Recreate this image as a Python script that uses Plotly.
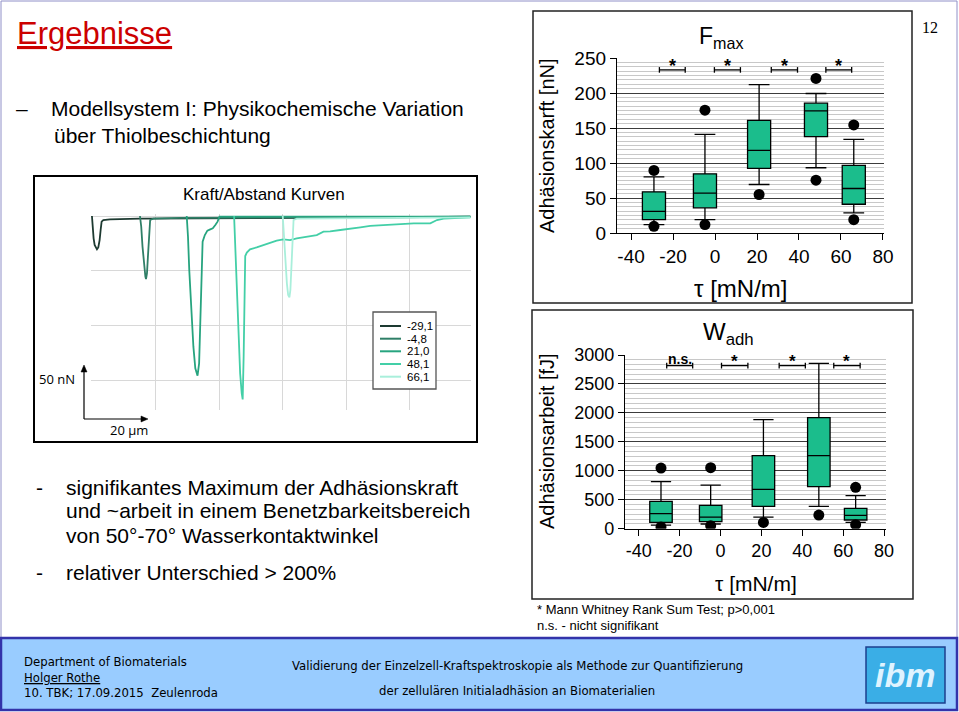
import plotly.graph_objects as go

# ---------------- data ----------------
tau = [-29.1, -4.8, 21.0, 48.1, 66.1]
tau_labels = ["-29,1", "-4,8", "21,0", "48,1", "66,1"]

x_tickvals = [-40, -20, 0, 20, 40, 60, 80]
x_ticktext = ["-40", "-20", "0", "20", "40", "60", "80"]
fmax_tickvals = [0, 50, 100, 150, 200, 250]
wadh_tickvals = [0, 500, 1000, 1500, 2000, 2500, 3000]

fmax_q1 = [19.1, 35.9, 92.3, 137.7, 41.1]
fmax_median = [31.0, 56.9, 118.0, 174.5, 63.6]
fmax_q3 = [58.8, 84.6, 161.0, 185.5, 96.6]
fmax_lower = [12.0, 19.1, 69.3, 93.2, 28.7]
fmax_upper = [80.3, 141.0, 212.0, 199.3, 133.8]
fmax_out_x = [-29.1, -29.1, -4.8, -4.8, 21.0, 48.1, 48.1, 66.1, 66.1]
fmax_out_y = [89.4, 9.6, 175.4, 12.0, 55.0, 220.8, 75.5, 154.4, 19.1]

wadh_q1 = [109, 121, 386, 725, 150]
wadh_median = [259, 201, 679, 1261, 230]
wadh_q3 = [472, 403, 1261, 1917, 351]
wadh_lower = [63, 81, 201, 386, 109]
wadh_upper = [812, 754, 1883, 2856, 570]
wadh_out_x = [-29.1, -29.1, -4.8, -4.8, 21.0, 48.1, 66.1, 66.1]
wadh_out_y = [1048, 29, 1054, 52, 109, 236, 714, 69]

fmax_sig_x0 = [-26.5, -0.3, 26.8, 52.8]
fmax_sig_x1 = [-14.2, 12.1, 39.3, 65.1]
fmax_sig_y = 233
fmax_sig_labels = ["*", "*", "*", "*"]

wadh_sig_x0 = [-26.3, 0.5, 28.7, 55.4]
wadh_sig_x1 = [-13.6, 13.4, 41.5, 68.3]
wadh_sig_y = 2816
wadh_sig_labels = ["n.s.", "*", "*", "*"]

# force/distance curves (x in µm, y in nN)
c1_x = [0, 0.21, 0.52, 0.84, 1.26, 1.57, 1.99, 2.41, 2.73, 3.04, 3.57, 5.67, 15.1, 43.4, 74.9, 95.9, 119.0]
c1_y = [0, -11.3, -20.4, -26.5, -29.6, -30.5, -28.7, -22.0, -12.8, -5.2, -3.7, -3.0, -2.4, -2.1, -1.5, -1.2, -0.6]
c2_x = [15.1, 15.5, 15.9, 16.4, 16.8, 17.0, 17.3, 17.6, 17.9, 18.3, 19.3, 27.7, 53.9, 85.4, 119.0]
c2_y = [0, -9.8, -28.0, -46.3, -55.5, -57.6, -52.4, -37.2, -15.9, -3.7, -2.4, -1.8, -1.5, -1.2, -0.6]
c3_x = [29.8, 30.2, 30.6, 31.3, 31.9, 32.5, 33.2, 33.7, 34.1, 34.5, 34.8, 35.5, 36.3, 37.2, 38.0, 38.8, 39.5, 40.1, 53.9, 85.4, 119.0]
c3_y = [0, -18.9, -49.4, -89.0, -119.5, -139.3, -146.0, -134.8, -101.2, -55.5, -23.5, -17.4, -13.4, -12.2, -11.3, -8.2, -5.2, -0.6, -0.6, -0.9, -0.6]
c4_x = [44.7, 45.1, 45.5, 46.1, 46.6, 47.1, 47.4, 47.7, 48.2, 48.7, 49.7, 51.8, 53.9, 56.0, 58.1, 60.2, 62.3, 64.4,
        67.6, 70.7, 72.8, 74.9, 78.1, 81.2, 84.4, 87.5, 91.7, 95.9, 101.2, 106.4, 108.5, 110.6, 113.7, 119.0]
c4_y = [0, -28.0, -67.7, -110.4, -143.9, -162.2, -167.7, -128.7, -36.6, -33.5, -30.5, -28.7, -26.5, -25.0, -22.6, -21.3, -22.0, -20.4,
        -18.9, -17.4, -14.3, -14.0, -12.8, -11.3, -10.4, -9.1, -8.2, -7.6, -6.7, -6.7, -3.7, -2.4, -1.8, -1.2]
c5_x = [60.0, 60.4, 60.8, 61.3, 61.7, 62.1, 62.4, 62.7, 63.1, 63.4, 64.4, 74.9, 95.9, 119.0]
c5_y = [0, -18.9, -43.3, -61.6, -72.3, -74.4, -67.7, -46.3, -18.9, -3.7, -2.4, -2.1, -1.5, -1.2]
curves_x = [c1_x, c2_x, c3_x, c4_x, c5_x]
curves_y = [c1_y, c2_y, c3_y, c4_y, c5_y]

# ---------------- styles ----------------
curve_colors = ["#1d3a31", "#2f7f67", "#27a47f", "#43cfa7", "#a9efdb"]
BOX_FILL = "#1bbd8c"
FONT = "Liberation Sans, Arial, Helvetica, sans-serif"
NARROW = "Liberation Sans Narrow, Arial Narrow, DejaVu Sans Condensed, sans-serif"

W, H = 959, 712


def X(p):
    return p / W


def Y(p):
    return 1 - p / H


fig = go.Figure()

for name, xs, ys, col in zip(tau_labels, curves_x, curves_y, curve_colors):
    fig.add_trace(go.Scatter(x=xs, y=ys, mode="lines", name=name, line=dict(color=col, width=1.8),
                             xaxis="x3", yaxis="y3", showlegend=False, hoverinfo="skip"))

box_style = dict(fillcolor=BOX_FILL, line=dict(color="black", width=1.3), whiskerwidth=0.9,
                 boxpoints=False, showlegend=False, hoverinfo="skip", width=11)
fig.add_trace(go.Box(x=tau, q1=fmax_q1, median=fmax_median, q3=fmax_q3, lowerfence=fmax_lower,
                     upperfence=fmax_upper, xaxis="x", yaxis="y", **box_style))
fig.add_trace(go.Scatter(x=fmax_out_x, y=fmax_out_y, mode="markers", marker=dict(color="black", size=11),
                         xaxis="x", yaxis="y", showlegend=False, hoverinfo="skip"))
fig.add_trace(go.Box(x=tau, q1=wadh_q1, median=wadh_median, q3=wadh_q3, lowerfence=wadh_lower,
                     upperfence=wadh_upper, xaxis="x2", yaxis="y2", **box_style))
fig.add_trace(go.Scatter(x=wadh_out_x, y=wadh_out_y, mode="markers", marker=dict(color="black", size=11),
                         xaxis="x2", yaxis="y2", showlegend=False, hoverinfo="skip"))

shapes = []
annotations = []


def line_px(x0, y0, x1, y1, color="black", width=1.3):
    shapes.append(dict(type="line", xref="paper", yref="paper", x0=X(x0), y0=Y(y0), x1=X(x1), y1=Y(y1),
                       line=dict(color=color, width=width)))


def rect_px(x0, y0, x1, y1, color="black", width=1.3, fill="rgba(0,0,0,0)", layer="above"):
    shapes.append(dict(type="rect", xref="paper", yref="paper", x0=X(x0), y0=Y(y0), x1=X(x1), y1=Y(y1),
                       line=dict(color=color, width=width), fillcolor=fill, layer=layer))


def tri_px(pts, color="black"):
    path = "M " + " L ".join(f"{X(a)},{Y(b)}" for a, b in pts) + " Z"
    shapes.append(dict(type="path", xref="paper", yref="paper", path=path, fillcolor=color,
                       line=dict(color=color, width=0.5)))


def text_px(x, y, text, size, xanchor="left", color="black", family=FONT, angle=0):
    annotations.append(dict(x=X(x), y=Y(y), xref="paper", yref="paper", text=text, showarrow=False,
                            xanchor=xanchor, yanchor="middle", textangle=angle,
                            font=dict(size=size, color=color, family=family)))


# slide border & footer
rect_px(1, 1, 957, 638, color="#9090c8", width=1, layer="below")
rect_px(1, 638, 957, 710, color="#3333aa", width=2.5, fill="#99ccff", layer="below")
rect_px(866, 647, 945, 703, color="#1d3f8f", width=1.5, fill="#3aaee6", layer="below")
text_px(905, 675, "<b><i>ibm</i></b>", 34, xanchor="center", color="#dff3ff")
text_px(22, 661, "Department of Biomaterials", 13, family=NARROW)
text_px(22, 677, "<u>Holger Rothe</u>", 13, family=NARROW)
text_px(22, 692, "10. TBK; 17.09.2015  Zeulenroda", 13, family=NARROW)
text_px(517, 665, "Validierung der Einzelzell-Kraftspektroskopie als Methode zur Quantifizierung", 13,
        xanchor="center", family=NARROW)
text_px(517, 690, "der zellulären Initialadhäsion an Biomaterialien", 13, xanchor="center", family=NARROW)

# left texts
text_px(15, 34, "<u>Ergebnisse</u>", 31, color="#cc0000")
text_px(14, 109, "–", 21)
text_px(49, 109, "Modellsystem I: Physikochemische Variation", 21)
text_px(52, 135, "über Thiolbeschichtung", 21)
text_px(34, 487, "-", 21)
text_px(64, 487, "signifikantes Maximum der Adhäsionskraft", 21)
text_px(64, 511, "und ~arbeit in einem Benetzbarkeitsbereich", 21)
text_px(64, 535, "von 50°-70° Wasserkontaktwinkel", 21)
text_px(34, 572, "-", 21)
text_px(64, 572, "relativer Unterschied > 200%", 21)
text_px(930, 28, "12", 16, xanchor="center", family="Liberation Serif, Times New Roman, serif")

# force chart frame, title, scale bar, legend
rect_px(34, 176, 477, 442, color="black", width=2)
text_px(264, 195, "Kraft/Abstand Kurven", 17, xanchor="center")
line_px(84, 419, 84, 370, width=1.2)
tri_px([(84, 365), (81, 372), (87, 372)])
line_px(84, 419, 143, 419, width=1.2)
tri_px([(148, 419), (141, 416), (141, 422)])
text_px(57, 379, "50 nN", 13, xanchor="center", family="Open Sans, DejaVu Sans, sans-serif")
text_px(129, 430, "20 µm", 13, xanchor="center", family="Open Sans, DejaVu Sans, sans-serif")
rect_px(373, 312, 436, 389, color="#555555", width=1.3, fill="white")
leg_y = [326, 338.7, 351.3, 364, 376.7]
for name, col, ly in zip(tau_labels, curve_colors, leg_y):
    line_px(380, ly, 401, ly, color=col, width=2)
    text_px(405, ly, name, 11.5)

# box chart frames and texts
rect_px(533, 11, 912, 303, color="#222222", width=1.5)
rect_px(532, 310, 913, 599, color="#222222", width=1.5)
text_px(721, 37, "F<sub>max</sub>", 23, xanchor="center")
text_px(728, 333, "W<sub>adh</sub>", 24, xanchor="center")
text_px(547, 146, "Adhäsionskarft [nN]", 20, xanchor="center", angle=-90)
text_px(547, 441, "Adhäsionsarbeit [fJ]", 20, xanchor="center", angle=-90)
text_px(740, 288, "τ [mN/m]", 24, xanchor="center")
text_px(756, 583, "τ [mN/m]", 21, xanchor="center")
text_px(535, 609, "* Mann Whitney Rank Sum Test; p>0,001", 13)
text_px(535, 625, "n.s. - nicht signifikant", 13)


def brackets(xref, yref, x0s, x1s, yv, cap, labels, lsize, yshift):
    for a, b, lab in zip(x0s, x1s, labels):
        shapes.append(dict(type="line", xref=xref, yref=yref, x0=a, x1=b, y0=yv, y1=yv,
                           line=dict(color="black", width=1.3)))
        for xx in (a, b):
            shapes.append(dict(type="line", xref=xref, yref=yref, x0=xx, x1=xx, y0=yv - cap, y1=yv + cap,
                               line=dict(color="black", width=1.3)))
        size = lsize if lab == "*" else lsize - 3
        annotations.append(dict(x=(a + b) / 2, y=yv, xref=xref, yref=yref, text="<b>" + lab + "</b>",
                                showarrow=False, yanchor="bottom", yshift=yshift if lab == "*" else -3,
                                font=dict(size=size, color="black", family=FONT)))


brackets("x", "y", fmax_sig_x0, fmax_sig_x1, fmax_sig_y, 4, fmax_sig_labels, 18, -8)
brackets("x2", "y2", wadh_sig_x0, wadh_sig_x1, wadh_sig_y, 50, wadh_sig_labels, 17, -7)

axis_common = dict(ticks="outside", ticklen=6, tickwidth=1.3, tickcolor="black", showline=True,
                   linecolor="black", linewidth=1.3, zeroline=False, fixedrange=True)

fig.update_layout(
    width=W, height=H, autosize=False,
    margin=dict(l=0, r=0, t=0, b=0, pad=0, autoexpand=False),
    paper_bgcolor="white", plot_bgcolor="white", showlegend=False,
    shapes=shapes, annotations=annotations,
    xaxis=dict(domain=[X(617), X(884)], range=[-46.7, 80.5], tickvals=x_tickvals, ticktext=x_ticktext,
               showgrid=False, anchor="y", tickfont=dict(size=19, color="black", family=FONT), **axis_common),
    yaxis=dict(domain=[Y(233), Y(58)], range=[0, 250], tickvals=fmax_tickvals, anchor="x",
               showgrid=True, gridcolor="#3c3c3c", gridwidth=1.2,
               minor=dict(tickmode="linear", tick0=0, dtick=6.25, showgrid=True, gridcolor="#c8c8c8", gridwidth=1),
               tickfont=dict(size=19, color="black", family=FONT), **axis_common),
    xaxis2=dict(domain=[X(625), X(885.7)], range=[-46.7, 80.8], tickvals=x_tickvals, ticktext=x_ticktext,
                showgrid=False, anchor="y2", tickfont=dict(size=18, color="black", family=FONT), **axis_common),
    yaxis2=dict(domain=[Y(528.7), Y(355)], range=[0, 3000], tickvals=wadh_tickvals, tickformat="d", anchor="x2",
                showgrid=True, gridcolor="#3c3c3c", gridwidth=1.2,
                minor=dict(tickmode="linear", tick0=0, dtick=500 / 6, showgrid=True, gridcolor="#c8c8c8", gridwidth=1),
                tickfont=dict(size=18, color="black", family=FONT), **axis_common),
    xaxis3=dict(domain=[X(91), X(471)], range=[-0.3, 119.2], tick0=0, dtick=20, showgrid=True,
                gridcolor="#d8d8d8", gridwidth=1, showticklabels=False, ticks="", zeroline=False,
                showline=False, anchor="y3", fixedrange=True),
    yaxis3=dict(domain=[Y(410), Y(214)], range=[-177.4, 1.83], tick0=0, dtick=50, showgrid=True,
                gridcolor="#d8d8d8", gridwidth=1, showticklabels=False, ticks="", zeroline=False,
                showline=False, anchor="x3", fixedrange=True),
)

PIN_JS = ("document.documentElement.style.overflow='hidden';"
          "document.body.style.margin='0';document.body.style.overflow='hidden';"
          "var d=document.getElementById('{plot_id}');"
          "d.style.position='fixed';d.style.left='0px';d.style.top='0px';")

fig.write_html("out.html", config={"displayModeBar": False, "responsive": False}, post_script=PIN_JS)
